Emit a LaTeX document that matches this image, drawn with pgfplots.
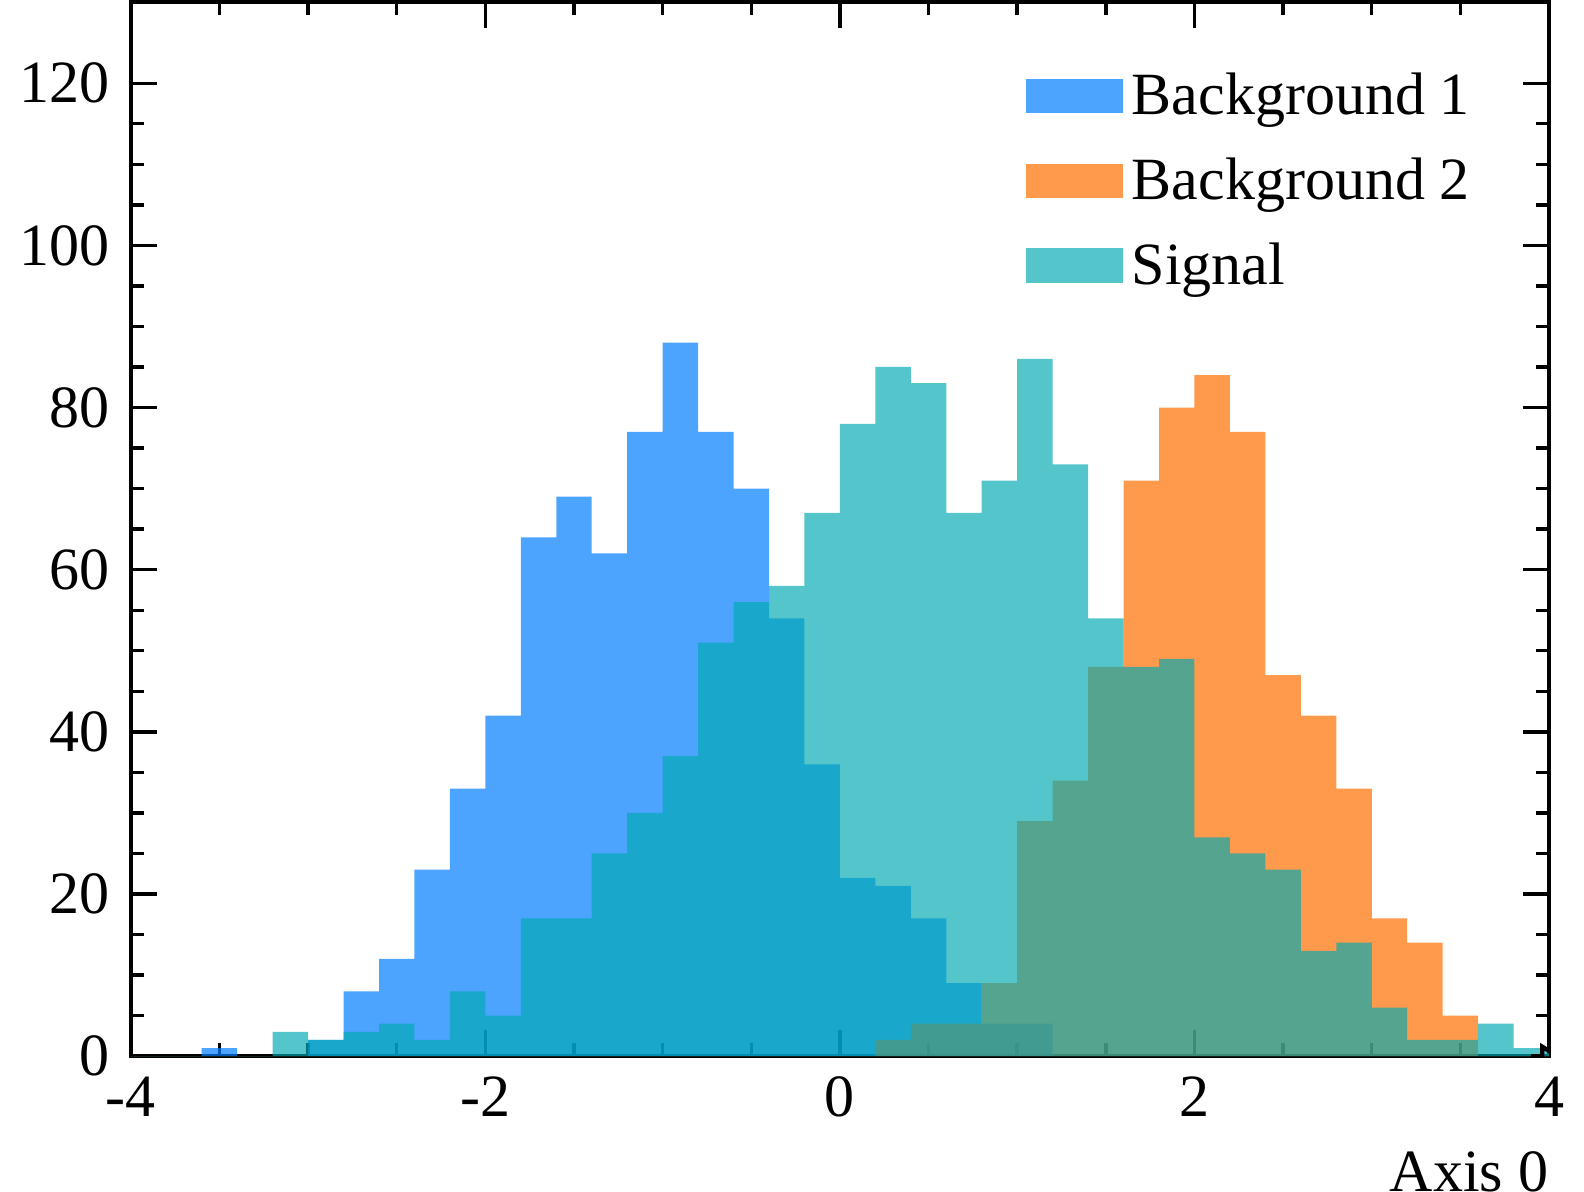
\documentclass[border=0pt]{standalone}
\usepackage{fontspec}
\setmainfont{Liberation Serif}
\usepackage{pgfplots}
\pgfplotsset{compat=1.18}
\usetikzlibrary{arrows.meta}
\definecolor{cb}{RGB}{0,125,255}
\definecolor{co}{RGB}{255,110,0}
\definecolor{cs}{RGB}{0,170,178}
\begin{document}
\fontsize{14}{16}\selectfont
\begin{tikzpicture}
\begin{axis}[
  width=331pt, height=246pt, scale only axis,
  xmin=-4, xmax=4, ymin=0, ymax=130,
  xtick={-4,-2,0,2,4}, ytick={0,20,...,120},
  minor x tick num=3, minor y tick num=3,
  tick align=inside, tick pos=both,
  major tick length=6pt, minor tick length=3pt,
  every tick/.style={black, line width=0.8pt},
  axis line style={line width=1pt},
  /pgf/number format/assume math mode=true,
  ticklabel style={font=\fontsize{14}{16}\selectfont},
  xlabel={Axis 0}, xlabel style={at={(1,0)}, anchor=north east, yshift=-22pt, inner sep=0pt},
  legend style={draw=none, fill=none, at={(0.96,0.95)}, anchor=north east, row sep=4pt, font=\fontsize{14}{16}\selectfont},
  legend cell align=left,
  legend image code/.code={\fill[#1] (0cm,-0.12cm) rectangle (0.8cm,0.16cm);},
]
\addplot[const plot mark left, fill=cb, fill opacity=0.7, draw=none] coordinates {
(-4,0)(-3.8,0)(-3.6,1)(-3.4,0)(-3.2,0)(-3.0,2)(-2.8,8)(-2.6,12)(-2.4,23)(-2.2,33)(-2.0,42)
(-1.8,64)(-1.6,69)(-1.4,62)(-1.2,77)(-1.0,88)(-0.8,77)(-0.6,70)(-0.4,54)(-0.2,36)
(0,22)(0.2,21)(0.4,17)(0.6,9)(0.8,4)(1.0,4)(1.2,0)(4,0)} \closedcycle;
\addlegendentry{Background 1}
\addplot[const plot mark left, fill=co, fill opacity=0.7, draw=none] coordinates {
(-4,0)(0.2,2)(0.4,4)(0.6,4)(0.8,9)(1.0,29)(1.2,34)(1.4,48)(1.6,71)(1.8,80)(2.0,84)
(2.2,77)(2.4,47)(2.6,42)(2.8,33)(3.0,17)(3.2,14)(3.4,5)(3.6,0)(4,0)} \closedcycle;
\addlegendentry{Background 2}
\addplot[const plot mark left, fill=cs, fill opacity=0.67, draw=none] coordinates {
(-4,0)(-3.2,3)(-3.0,2)(-2.8,3)(-2.6,4)(-2.4,2)(-2.2,8)(-2.0,5)(-1.8,17)(-1.6,17)(-1.4,25)
(-1.2,30)(-1.0,37)(-0.8,51)(-0.6,56)(-0.4,58)(-0.2,67)(0,78)(0.2,85)(0.4,83)(0.6,67)
(0.8,71)(1.0,86)(1.2,73)(1.4,54)(1.6,48)(1.8,49)(2.0,27)(2.2,25)(2.4,23)(2.6,13)(2.8,14)
(3.0,6)(3.2,2)(3.4,2)(3.6,4)(3.8,1)(4,1)} \closedcycle;
\addlegendentry{Signal}
\draw[line width=1pt,-{Triangle[open,length=5pt,width=6pt]}] (axis cs:3.9,0) -- (axis cs:4.07,0);
\end{axis}
\end{tikzpicture}
\end{document}
